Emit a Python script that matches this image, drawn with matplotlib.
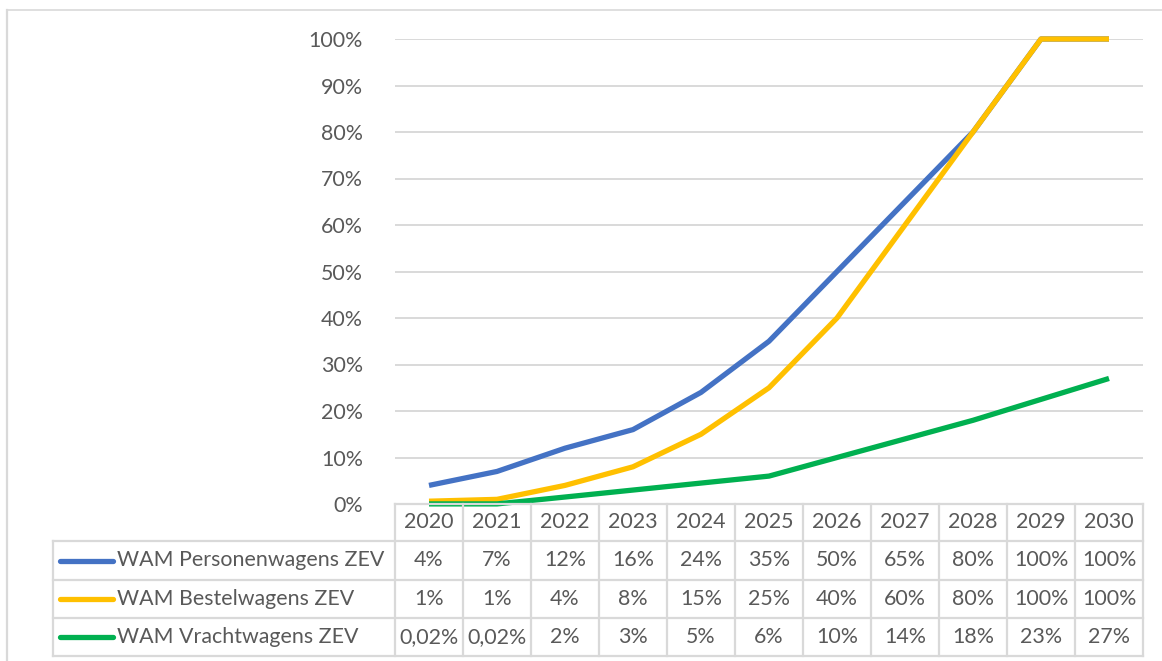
import matplotlib
matplotlib.use("Agg")
import matplotlib.pyplot as plt
from matplotlib.lines import Line2D
import matplotlib.transforms as mtransforms

# Data
years = ["2020", "2021", "2022", "2023", "2024", "2025", "2026", "2027", "2028", "2029", "2030"]
series_names = ["WAM Personenwagens ZEV", "WAM Bestelwagens ZEV", "WAM Vrachtwagens ZEV"]
personen = [0.04, 0.07, 0.12, 0.16, 0.24, 0.35, 0.50, 0.65, 0.80, 1.00, 1.00]
bestel = [0.006, 0.01, 0.04, 0.08, 0.15, 0.25, 0.40, 0.60, 0.80, 1.00, 1.00]
vracht = [0.0002, 0.0002, 0.015, 0.03, 0.045, 0.06, 0.10, 0.14, 0.18, 0.225, 0.27]
personen_lbl = ["4%", "7%", "12%", "16%", "24%", "35%", "50%", "65%", "80%", "100%", "100%"]
bestel_lbl = ["1%", "1%", "4%", "8%", "15%", "25%", "40%", "60%", "80%", "100%", "100%"]
vracht_lbl = ["0,02%", "0,02%", "2%", "3%", "5%", "6%", "10%", "14%", "18%", "23%", "27%"]
yticks = [i / 10 for i in range(11)]

colors = ["#4472C4", "#FFC000", "#00B050"]
grid_c = "#D9D9D9"
text_c = "#595959"
fs = 15.4
W, H = 1162, 661
plt.rcParams["font.family"] = ["Lato", "DejaVu Sans"]

fig = plt.figure(figsize=(W / 100, H / 100), dpi=100)

def fx(px):
    return px / W

def fy(py):
    return 1 - py / H

# plot area in pixels
left, right, top, bottom = 395, 1143, 39, 504
ax = fig.add_axes([fx(left), fy(bottom), fx(right - left), (bottom - top) / H])

values = [personen, bestel, vracht]
labels = [personen_lbl, bestel_lbl, vracht_lbl]
xs = list(range(len(years)))
for vals, c in zip(values, colors):
    ax.plot(xs, vals, color=c, lw=3.8, solid_capstyle="butt", zorder=3, clip_on=False)

ax.set_xlim(-0.5, len(years) - 0.5)
ax.set_ylim(0, 1)
ax.set_yticks(yticks)
ax.set_yticklabels([f"{int(round(t * 100))}%" for t in yticks])
ax.tick_params(axis="y", length=0, pad=23, labelsize=fs, labelcolor=text_c)
ax.set_xticks([])
for s in ax.spines.values():
    s.set_visible(False)
ax.grid(axis="y", color=grid_c, lw=1.4)
ax.set_axisbelow(True)

# data table below the axis
trans = mtransforms.blended_transform_factory(ax.transData, fig.transFigure)
rows_y = [504, 541, 580, 618, 656]
tbl_left = 53
lw_t = 1.6

# horizontal lines
for i, ry in enumerate(rows_y):
    x0 = left if i == 0 else tbl_left
    fig.add_artist(Line2D([fx(x0), fx(right)], [fy(ry), fy(ry)], color=grid_c, lw=lw_t))
# vertical lines at column boundaries
for j in range(len(years) + 1):
    xb = j - 0.5
    fig.add_artist(Line2D([xb, xb], [fy(rows_y[0]), fy(rows_y[-1])], color=grid_c, lw=lw_t, transform=trans))
fig.add_artist(Line2D([fx(tbl_left), fx(tbl_left)], [fy(rows_y[1]), fy(rows_y[-1])], color=grid_c, lw=lw_t))

# header
hy = fy((rows_y[0] + rows_y[1]) / 2)
for j, yr in enumerate(years):
    fig.text(j, hy, yr, transform=trans, ha="center", va="center", fontsize=fs, color=text_c)

# rows
for r, (name, lbls, c) in enumerate(zip(series_names, labels, colors)):
    cy = fy((rows_y[r + 1] + rows_y[r + 2]) / 2)
    fig.add_artist(Line2D([fx(60), fx(113)], [cy, cy], color=c, lw=3.8, solid_capstyle="round"))
    fig.text(fx(117), cy, name, ha="left", va="center", fontsize=fs, color=text_c)
    for j, lb in enumerate(lbls):
        fig.text(j, cy, lb, transform=trans, ha="center", va="center", fontsize=fs, color=text_c)

# chart frame (cut off at right and bottom)
fig.add_artist(Line2D([fx(7), fx(W)], [fy(10), fy(10)], color=grid_c, lw=1.2))
fig.add_artist(Line2D([fx(7), fx(7)], [fy(10), 0], color=grid_c, lw=1.6))

fig.savefig("out.png", dpi=100)
